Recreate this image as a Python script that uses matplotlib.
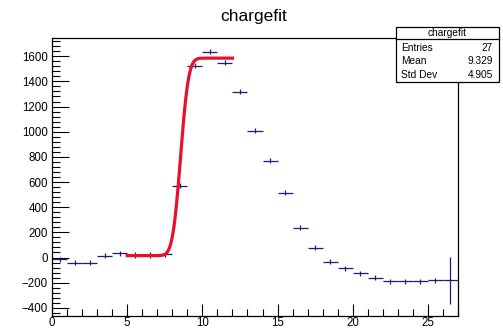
import math
import numpy as np
import matplotlib
matplotlib.use("Agg")
import matplotlib.pyplot as plt
from matplotlib.patches import Rectangle
from matplotlib.lines import Line2D
from matplotlib.ticker import MultipleLocator

plt.rcParams['font.family'] = ['Liberation Sans', 'DejaVu Sans']

# ---- data ----
bin_edges = np.arange(0, 28, 1)
bin_centers = (bin_edges[:-1] + bin_edges[1:]) / 2
counts = [-15, -40, -40, 15, 35, 20, 20, 25, 571, 1524, 1635, 1548, 1317, 1008,
          770, 516, 238, 79, -32, -87, -127, -159, -190, -190, -190, -182, -182]
y_errors = [20, 20, 20, 20, 20, 20, 20, 20, 20, 20, 20, 20, 20, 20,
            20, 20, 20, 20, 20, 20, 20, 20, 20, 20, 20, 20, 185]

# fit (error-function step) parameters and range
fit_base = 15
fit_amp = 1570
fit_mu = 8.55
fit_sigma = 0.42
fit_range = (5.0, 12.0)

title = "chargefit"
stats_labels = ["Entries", "Mean", "Std Dev"]
stats_values = ["27", "9.329", "4.905"]

# ---- figure ----
W, H = 503, 329
fig = plt.figure(figsize=(W / 100, H / 100), dpi=100)
ax = fig.add_axes([52 / W, 1 - 316 / H, (458 - 52) / W, (316 - 38) / H])

navy = '#1c1c78'
ax.errorbar(bin_centers, counts, xerr=0.5, yerr=y_errors, fmt='none',
            ecolor=navy, elinewidth=0.9, capsize=0, zorder=3)

xf = np.linspace(fit_range[0], fit_range[1], 100)
yf = np.array([fit_base + fit_amp * 0.5 * (1 + math.erf((x - fit_mu) / (fit_sigma * math.sqrt(2))))
               for x in xf])
ax.plot(xf, yf, color='#e8102a', lw=2.3, zorder=4, solid_joinstyle='round')

ax.set_xlim(0, 27)
ax.set_ylim(-465, 1745)

ax.xaxis.set_major_locator(MultipleLocator(5))
ax.xaxis.set_minor_locator(MultipleLocator(1))
ax.yaxis.set_major_locator(MultipleLocator(200))
ax.yaxis.set_minor_locator(MultipleLocator(40))

ax.tick_params(axis='both', which='both', direction='in', top=False, right=False,
               labelsize=8.3, colors='black', width=0.8)
ax.tick_params(axis='y', which='major', length=12, pad=3)
ax.tick_params(axis='y', which='minor', length=6)
ax.tick_params(axis='x', which='major', length=9, pad=0.5)
ax.tick_params(axis='x', which='minor', length=5)
ax.set_yticks(np.arange(-400, 1601, 200))
ax.set_yticklabels([str(v).replace('-', '\u2212') for v in np.arange(-400, 1601, 200)])
for s in ax.spines.values():
    s.set_linewidth(0.9)
    s.set_color('black')

fig.text(254 / W, 1 - 16 / H, title, ha='center', va='center', fontsize=12.5)

# stats box
bx0, bx1, by0, by1 = 396, 499, 27, 82
fig.patches.append(Rectangle((bx0 / W, 1 - by1 / H), (bx1 - bx0) / W, (by1 - by0) / H,
                             transform=fig.transFigure, facecolor='white',
                             edgecolor='black', linewidth=0.9, zorder=10))
fig.lines.append(Line2D([bx0 / W, bx1 / W], [1 - 39 / H, 1 - 39 / H],
                        transform=fig.transFigure, color='black', linewidth=0.9, zorder=11))
fig.text((bx0 + bx1) / 2 / W, 1 - 33 / H, title, ha='center', va='center', fontsize=7.3, zorder=12)
for i, (lab, val) in enumerate(zip(stats_labels, stats_values)):
    yy = 1 - (48 + i * 13.3) / H
    fig.text(401 / W, yy, lab, ha='left', va='center', fontsize=7.3, zorder=12)
    fig.text(493 / W, yy, val, ha='right', va='center', fontsize=7.3, zorder=12)

fig.savefig('out.png', dpi=100)
